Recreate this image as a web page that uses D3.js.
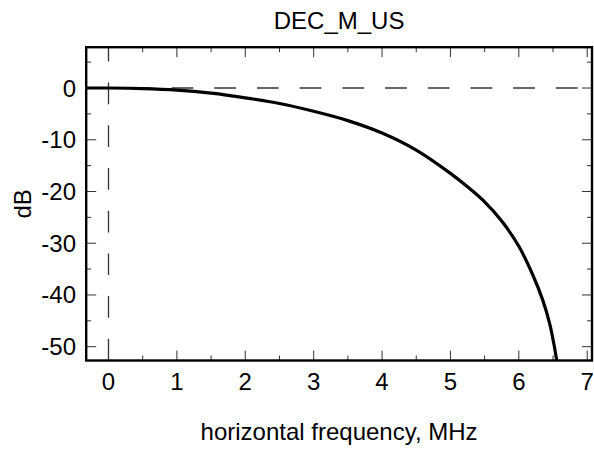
<!DOCTYPE html>
<html>
<head>
<meta charset="utf-8">
<script src="https://cdn.jsdelivr.net/npm/d3@7"></script>
<style>
  html, body { margin: 0; padding: 0; background: #fff; }
  svg { display: block; }
  text { font-family: "Liberation Sans", Arial, sans-serif; fill: #000; }
</style>
</head>
<body>
<svg id="chart" width="594" height="450"></svg>
<script>
// ---- data ----
const title = "DEC_M_US";
const xLabel = "horizontal frequency, MHz";
const yLabel = "dB";
const freq = [-0.33, 0, 0.5, 1, 1.5, 2, 2.5, 3, 3.5, 4, 4.5, 5, 5.25, 5.5, 5.75, 6, 6.2, 6.35, 6.45, 6.52, 6.57];
const dB   = [0, 0, -0.1, -0.4, -1.0, -1.9, -3.0, -4.5, -6.3, -8.7, -12.0, -16.5, -19.1, -22.0, -25.7, -30.6, -36, -41, -45.5, -50, -54];
const xTicks = [0, 1, 2, 3, 4, 5, 6, 7];
const xMinor = [0.5, 1.5, 2.5, 3.5, 4.5, 5.5, 6.5];
const yTicks = [0, -10, -20, -30, -40, -50];
const yMinor = [5, -5, -15, -25, -35, -45];
const xDomain = [-0.326, 7.07];
const yDomain = [-52.67, 7.89];

// ---- layout ----
const svg = d3.select("#chart");
const L = 86.2, R = 592, T = 47.2, B = 360.5;
const x = d3.scaleLinear().domain(xDomain).range([L, R]);
const y = d3.scaleLinear().domain(yDomain).range([B, T]);

svg.append("defs").append("clipPath").attr("id", "clip")
  .append("rect").attr("x", L).attr("y", T).attr("width", R - L).attr("height", B - T);

// reference dashed lines
svg.append("line")
  .attr("x1", L).attr("x2", R).attr("y1", y(0)).attr("y2", y(0))
  .attr("stroke", "#333").attr("stroke-width", 1.3).attr("stroke-dasharray", "21.7,21");
svg.append("line")
  .attr("x1", x(0)).attr("x2", x(0)).attr("y1", B).attr("y2", T)
  .attr("stroke", "#333").attr("stroke-width", 1.3).attr("stroke-dasharray", "21.7,21");

// ticks on all four sides (inward)
const tickG = svg.append("g").attr("stroke", "#333").attr("stroke-width", 1);
function xt(vals, len) {
  vals.forEach(v => {
    tickG.append("line").attr("x1", x(v)).attr("x2", x(v)).attr("y1", B).attr("y2", B - len);
    tickG.append("line").attr("x1", x(v)).attr("x2", x(v)).attr("y1", T).attr("y2", T + len);
  });
}
function yt(vals, len) {
  vals.forEach(v => {
    tickG.append("line").attr("y1", y(v)).attr("y2", y(v)).attr("x1", L).attr("x2", L + len);
    tickG.append("line").attr("y1", y(v)).attr("y2", y(v)).attr("x1", R).attr("x2", R - len);
  });
}
xt(xTicks, 10); xt(xMinor, 5);
yt(yTicks, 10); yt(yMinor, 5);

// curve
const line = d3.line().x((d, i) => x(freq[i])).y(d => y(d)).curve(d3.curveCatmullRom.alpha(0.5));
svg.append("path").datum(dB)
  .attr("clip-path", "url(#clip)")
  .attr("d", line)
  .attr("fill", "none").attr("stroke", "#000").attr("stroke-width", 3.2);

// frame
svg.append("rect").attr("x", L).attr("y", T).attr("width", R - L).attr("height", B - T)
  .attr("fill", "none").attr("stroke", "#000").attr("stroke-width", 2.4);

// tick labels
const fs = 24;
svg.append("g").selectAll("text").data(xTicks).join("text")
  .attr("x", d => x(d)).attr("y", 390)
  .attr("text-anchor", "middle").attr("font-size", fs).text(d => d);
svg.append("g").selectAll("text").data(yTicks).join("text")
  .attr("x", 76).attr("y", d => y(d) + 8.5)
  .attr("text-anchor", "end").attr("font-size", fs).text(d => d);

// titles
svg.append("text").attr("x", (L + R) / 2).attr("y", 29)
  .attr("text-anchor", "middle").attr("font-size", fs).text(title);
svg.append("text").attr("x", (L + R) / 2).attr("y", 440)
  .attr("text-anchor", "middle").attr("font-size", fs).text(xLabel);
svg.append("text").attr("transform", `translate(31,${(T + B) / 2}) rotate(-90)`)
  .attr("text-anchor", "middle").attr("font-size", fs).text(yLabel);
</script>
</body>
</html>
